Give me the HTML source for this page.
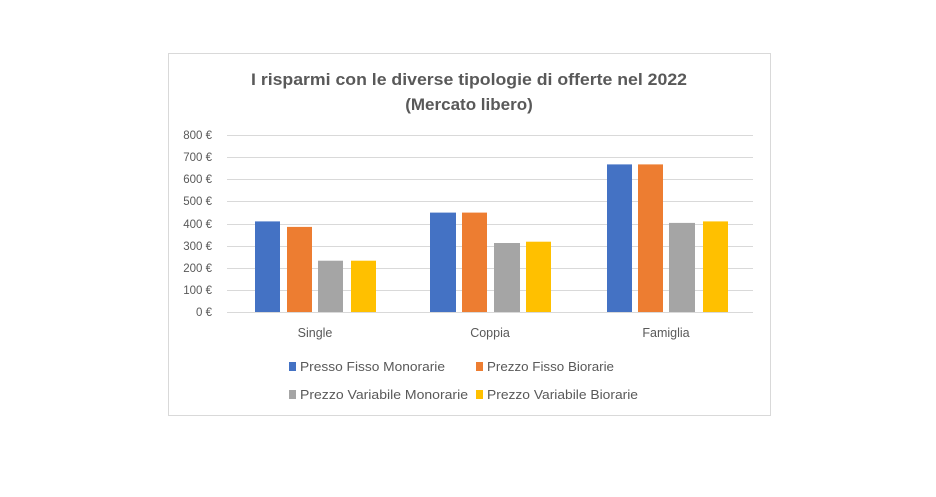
<!DOCTYPE html>
<html><head><style>
body{margin:0;background:#fff;width:936px;height:492px;overflow:hidden}
svg text{font-family:"Liberation Sans",sans-serif}
</style></head><body>
<svg width="936" height="492" viewBox="0 0 936 492">
<rect x="168.5" y="53.5" width="602" height="362" fill="#fff" stroke="#d9d9d9"/>
<text x="251" y="85" font-size="17" font-weight="bold" fill="#595959" textLength="436" lengthAdjust="spacingAndGlyphs">I risparmi con le diverse tipologie di offerte nel 2022</text>
<text x="469" y="110" text-anchor="middle" font-size="17" font-weight="bold" fill="#595959">(Mercato libero)</text>
<g stroke="#d9d9d9" stroke-width="1">
<line x1="227" x2="753" y1="135.5" y2="135.5"/><line x1="227" x2="753" y1="157.5" y2="157.5"/>
<line x1="227" x2="753" y1="179.5" y2="179.5"/><line x1="227" x2="753" y1="201.5" y2="201.5"/>
<line x1="227" x2="753" y1="224.5" y2="224.5"/><line x1="227" x2="753" y1="246.5" y2="246.5"/>
<line x1="227" x2="753" y1="268.5" y2="268.5"/><line x1="227" x2="753" y1="290.5" y2="290.5"/>
<line x1="227" x2="753" y1="312.5" y2="312.5"/>
</g>
<g font-size="11.5" fill="#595959" text-anchor="end">
<text x="212" y="139">800 €</text><text x="212" y="161">700 €</text><text x="212" y="183">600 €</text>
<text x="212" y="205">500 €</text><text x="212" y="228">400 €</text><text x="212" y="250">300 €</text>
<text x="212" y="272">200 €</text><text x="212" y="294">100 €</text><text x="212" y="316">0 €</text>
</g>
<g>
<rect x="255" y="221.4" width="25" height="90.6" fill="#4472c4"/>
<rect x="287" y="226.9" width="25" height="85.1" fill="#ed7d31"/>
<rect x="318" y="260.7" width="25" height="51.3" fill="#a5a5a5"/>
<rect x="351" y="260.7" width="25" height="51.3" fill="#ffc000"/>
<rect x="430" y="212.6" width="26" height="99.4" fill="#4472c4"/>
<rect x="462" y="212.6" width="25" height="99.4" fill="#ed7d31"/>
<rect x="494" y="243.0" width="26" height="69" fill="#a5a5a5"/>
<rect x="526" y="241.7" width="25" height="70.3" fill="#ffc000"/>
<rect x="607" y="164.4" width="25" height="147.6" fill="#4472c4"/>
<rect x="638" y="164.4" width="25" height="147.6" fill="#ed7d31"/>
<rect x="669" y="222.9" width="26" height="89.1" fill="#a5a5a5"/>
<rect x="703" y="221.4" width="25" height="90.6" fill="#ffc000"/>
</g>
<g font-size="12.5" fill="#595959" text-anchor="middle">
<text x="315" y="337">Single</text><text x="490" y="337">Coppia</text><text x="666" y="337">Famiglia</text>
</g>
<g font-size="12.5" fill="#595959">
<rect x="289" y="362" width="7" height="9" fill="#4472c4"/><text x="300" y="371" textLength="145" lengthAdjust="spacingAndGlyphs">Presso Fisso Monorarie</text>
<rect x="476" y="362" width="7" height="9" fill="#ed7d31"/><text x="487" y="371" textLength="127" lengthAdjust="spacingAndGlyphs">Prezzo Fisso Biorarie</text>
<rect x="289" y="390" width="7" height="9" fill="#a5a5a5"/><text x="300" y="399" textLength="168" lengthAdjust="spacingAndGlyphs">Prezzo Variabile Monorarie</text>
<rect x="476" y="390" width="7" height="9" fill="#ffc000"/><text x="487" y="399" textLength="151" lengthAdjust="spacingAndGlyphs">Prezzo Variabile Biorarie</text>
</g>
</svg>
</body></html>
